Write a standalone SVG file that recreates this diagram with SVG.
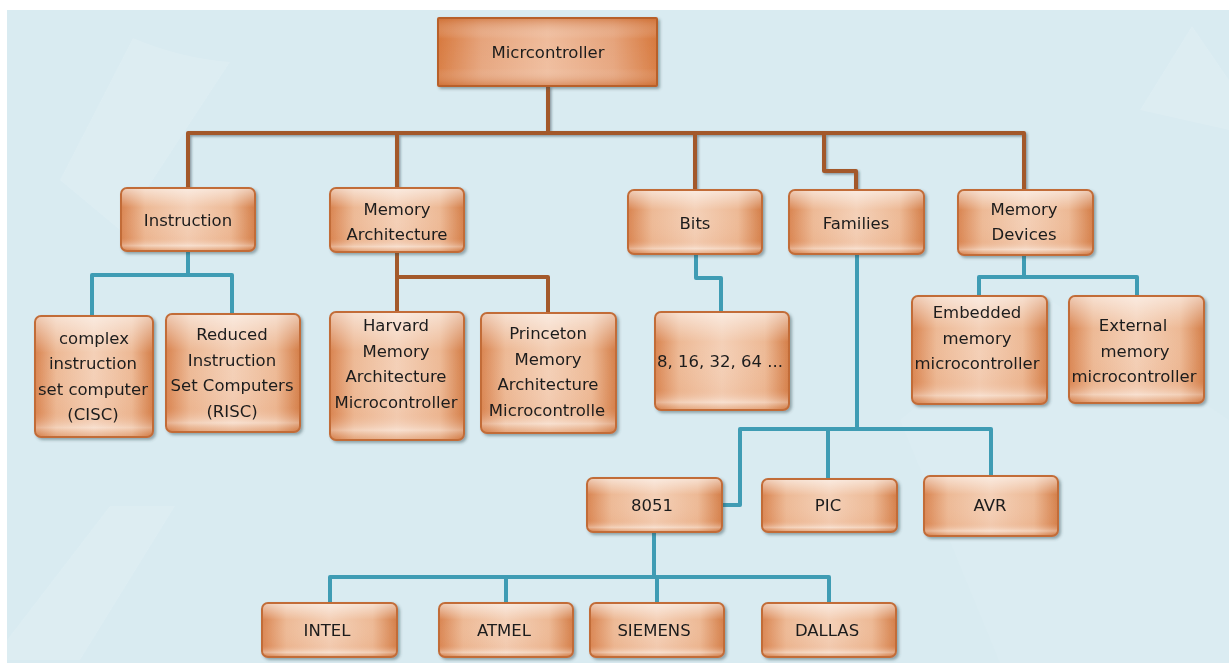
<svg xmlns="http://www.w3.org/2000/svg" width="1229" height="663" viewBox="0 0 1229 663">
<defs>
<linearGradient id="gh" x1="0" y1="0" x2="1" y2="0">
<stop offset="0" stop-color="#d98450"/>
<stop offset="0.18" stop-color="#edb995"/>
<stop offset="0.5" stop-color="#f4d0b7"/>
<stop offset="0.82" stop-color="#edb995"/>
<stop offset="1" stop-color="#d47e48"/>
</linearGradient>
<linearGradient id="gv" x1="0" y1="0" x2="0" y2="1">
<stop offset="0" stop-color="#ffffff" stop-opacity="0.55"/>
<stop offset="0.3" stop-color="#ffffff" stop-opacity="0"/>
<stop offset="0.8" stop-color="#e09060" stop-opacity="0.1"/>
<stop offset="0.93" stop-color="#ffffff" stop-opacity="0.35"/>
<stop offset="1" stop-color="#d07a44" stop-opacity="0.3"/>
</linearGradient>
<linearGradient id="gm" x1="0" y1="0" x2="1" y2="0">
<stop offset="0" stop-color="#d7793e"/>
<stop offset="0.2" stop-color="#e6a47c"/>
<stop offset="0.5" stop-color="#efbc9c"/>
<stop offset="0.8" stop-color="#e6a47c"/>
<stop offset="1" stop-color="#d7793e"/>
</linearGradient>
<linearGradient id="gmv" x1="0" y1="0" x2="0" y2="1">
<stop offset="0" stop-color="#c96a30" stop-opacity="0.5"/>
<stop offset="0.3" stop-color="#ffffff" stop-opacity="0"/>
<stop offset="0.75" stop-color="#ffffff" stop-opacity="0.05"/>
<stop offset="1" stop-color="#c96a30" stop-opacity="0.45"/>
</linearGradient>
<filter id="sh" x="-10%" y="-10%" width="130%" height="130%">
<feDropShadow dx="2" dy="2" stdDeviation="1.5" flood-color="#304850" flood-opacity="0.45"/>
</filter>
<filter id="lsh" x="-5%" y="-5%" width="110%" height="110%">
<feDropShadow dx="1.5" dy="1.5" stdDeviation="1" flood-color="#203038" flood-opacity="0.45"/>
</filter>
</defs>
<style>
.box{fill:url(#gh);stroke:#c26c38;stroke-width:2;}
.gl{fill:url(#gv);stroke:none;}
.t{font-family:"DejaVu Sans","Liberation Sans",sans-serif;font-size:16.5px;fill:#1c1c1c;text-anchor:middle;}
.br{fill:none;stroke:#a3592b;stroke-width:4;stroke-linejoin:round;}
.bl{fill:none;stroke:#3f9cb4;stroke-width:4;stroke-linejoin:round;}
</style>
<rect x="0" y="0" width="1229" height="663" fill="#ffffff"/>
<rect x="7" y="10" width="1222" height="653" fill="#d9ebf1"/>
<g id="background" fill="#ffffff" opacity="0.12">
<path d="M133 38 Q180 58 230 62 L120 230 L60 180 Z"/>
<path d="M1192 26 L1229 80 L1229 130 L1140 110 Z"/>
<path d="M110 506 L175 506 L80 660 L7 660 L7 640 Z"/>
<path d="M900 420 L1050 300 L1229 420 L1229 663 L1000 663 Z" opacity="0.4"/>
</g>
<g id="connectors">
<g filter="url(#lsh)">
<path class="br" d="M548 86 V133"/>
<path class="br" d="M188 188 V133 H1024 V190"/>
<path class="br" d="M397 133 V188"/>
<path class="br" d="M695 133 V190"/>
<path class="br" d="M824 133 V171 H856 V190"/>
</g>
<path class="br" d="M397 253 V312"/>
<path class="br" d="M397 277 H548 V313"/>
<path class="bl" d="M188 252 V275"/>
<path class="bl" d="M92 316 V275 H232 V313"/>
<path class="bl" d="M696 255 V278 H721 V312"/>
<path class="bl" d="M1024 256 V277"/>
<path class="bl" d="M979 296 V277 H1137 V296"/>
<path class="bl" d="M857 255 V429"/>
<path class="bl" d="M722 505 H740 V429 H991 V476"/>
<path class="bl" d="M828 429 V479"/>
<path class="bl" d="M654 532 V577"/>
<path class="bl" d="M330 603 V577 H829 V603"/>
<path class="bl" d="M506 577 V603"/>
<path class="bl" d="M657 577 V603"/>
</g>
<g id="n-micro" filter="url(#sh)">
<rect x="438" y="18" width="219" height="68" rx="1" fill="url(#gm)" stroke="#b8602c" stroke-width="2"/>
<rect x="439" y="19" width="217" height="66" fill="url(#gmv)"/>
<text class="t" x="548" y="58">Micrcontroller</text>
</g>
<g id="n-instruction" filter="url(#sh)">
<rect class="box" x="121" y="188" width="134" height="63" rx="6"/>
<rect class="gl" x="122" y="189" width="132" height="61" rx="5"/>
<text class="t" x="188" y="226">Instruction</text>
</g>
<g id="n-memarch" filter="url(#sh)">
<rect class="box" x="330" y="188" width="134" height="64" rx="6"/>
<rect class="gl" x="331" y="189" width="132" height="62" rx="5"/>
<text class="t" x="397" y="215">Memory</text>
<text class="t" x="397" y="240">Architecture</text>
</g>
<g id="n-bits" filter="url(#sh)">
<rect class="box" x="628" y="190" width="134" height="64" rx="6"/>
<rect class="gl" x="629" y="191" width="132" height="62" rx="5"/>
<text class="t" x="695" y="229">Bits</text>
</g>
<g id="n-families" filter="url(#sh)">
<rect class="box" x="789" y="190" width="135" height="64" rx="6"/>
<rect class="gl" x="790" y="191" width="133" height="62" rx="5"/>
<text class="t" x="856" y="229">Families</text>
</g>
<g id="n-memdev" filter="url(#sh)">
<rect class="box" x="958" y="190" width="135" height="65" rx="6"/>
<rect class="gl" x="959" y="191" width="133" height="63" rx="5"/>
<text class="t" x="1024" y="215">Memory</text>
<text class="t" x="1024" y="240">Devices</text>
</g>
<g id="n-cisc" filter="url(#sh)">
<rect class="box" x="35" y="316" width="118" height="121" rx="6"/>
<rect class="gl" x="36" y="317" width="116" height="119" rx="5"/>
<text class="t" x="94" y="344">complex</text>
<text class="t" x="93" y="369">instruction</text>
<text class="t" x="93" y="395">set computer</text>
<text class="t" x="93" y="420">(CISC)</text>
</g>
<g id="n-risc" filter="url(#sh)">
<rect class="box" x="166" y="314" width="134" height="118" rx="6"/>
<rect class="gl" x="167" y="315" width="132" height="116" rx="5"/>
<text class="t" x="232" y="340">Reduced</text>
<text class="t" x="232" y="366">Instruction</text>
<text class="t" x="232" y="391">Set Computers</text>
<text class="t" x="232" y="417">(RISC)</text>
</g>
<g id="n-harvard" filter="url(#sh)">
<rect class="box" x="330" y="312" width="134" height="128" rx="6"/>
<rect class="gl" x="331" y="313" width="132" height="126" rx="5"/>
<text class="t" x="396" y="331">Harvard</text>
<text class="t" x="396" y="357">Memory</text>
<text class="t" x="396" y="382">Architecture</text>
<text class="t" x="396" y="408">Microcontroller</text>
</g>
<g id="n-princeton" filter="url(#sh)">
<rect class="box" x="481" y="313" width="135" height="120" rx="6"/>
<rect class="gl" x="482" y="314" width="133" height="118" rx="5"/>
<text class="t" x="548" y="339">Princeton</text>
<text class="t" x="548" y="365">Memory</text>
<text class="t" x="548" y="390">Architecture</text>
<text class="t" x="547" y="416">Microcontrolle</text>
</g>
<g id="n-bitvals" filter="url(#sh)">
<rect class="box" x="655" y="312" width="134" height="98" rx="6"/>
<rect class="gl" x="656" y="313" width="132" height="96" rx="5"/>
<text class="t" x="720" y="367">8, 16, 32, 64 ...</text>
</g>
<g id="n-embedded" filter="url(#sh)">
<rect class="box" x="912" y="296" width="135" height="108" rx="6"/>
<rect class="gl" x="913" y="297" width="133" height="106" rx="5"/>
<text class="t" x="977" y="318">Embedded</text>
<text class="t" x="977" y="344">memory</text>
<text class="t" x="977" y="369">microcontroller</text>
</g>
<g id="n-external" filter="url(#sh)">
<rect class="box" x="1069" y="296" width="135" height="107" rx="6"/>
<rect class="gl" x="1070" y="297" width="133" height="105" rx="5"/>
<text class="t" x="1133" y="331">External</text>
<text class="t" x="1135" y="357">memory</text>
<text class="t" x="1134" y="382">microcontroller</text>
</g>
<g id="n-8051" filter="url(#sh)">
<rect class="box" x="587" y="478" width="135" height="54" rx="6"/>
<rect class="gl" x="588" y="479" width="133" height="52" rx="5"/>
<text class="t" x="652" y="511">8051</text>
</g>
<g id="n-pic" filter="url(#sh)">
<rect class="box" x="762" y="479" width="135" height="53" rx="6"/>
<rect class="gl" x="763" y="480" width="133" height="51" rx="5"/>
<text class="t" x="828" y="511">PIC</text>
</g>
<g id="n-avr" filter="url(#sh)">
<rect class="box" x="924" y="476" width="134" height="60" rx="6"/>
<rect class="gl" x="925" y="477" width="132" height="58" rx="5"/>
<text class="t" x="990" y="511">AVR</text>
</g>
<g id="n-intel" filter="url(#sh)">
<rect class="box" x="262" y="603" width="135" height="54" rx="6"/>
<rect class="gl" x="263" y="604" width="133" height="52" rx="5"/>
<text class="t" x="327" y="636">INTEL</text>
</g>
<g id="n-atmel" filter="url(#sh)">
<rect class="box" x="439" y="603" width="134" height="54" rx="6"/>
<rect class="gl" x="440" y="604" width="132" height="52" rx="5"/>
<text class="t" x="504" y="636">ATMEL</text>
</g>
<g id="n-siemens" filter="url(#sh)">
<rect class="box" x="590" y="603" width="134" height="54" rx="6"/>
<rect class="gl" x="591" y="604" width="132" height="52" rx="5"/>
<text class="t" x="654" y="636">SIEMENS</text>
</g>
<g id="n-dallas" filter="url(#sh)">
<rect class="box" x="762" y="603" width="134" height="54" rx="6"/>
<rect class="gl" x="763" y="604" width="132" height="52" rx="5"/>
<text class="t" x="827" y="636">DALLAS</text>
</g>
</svg>
